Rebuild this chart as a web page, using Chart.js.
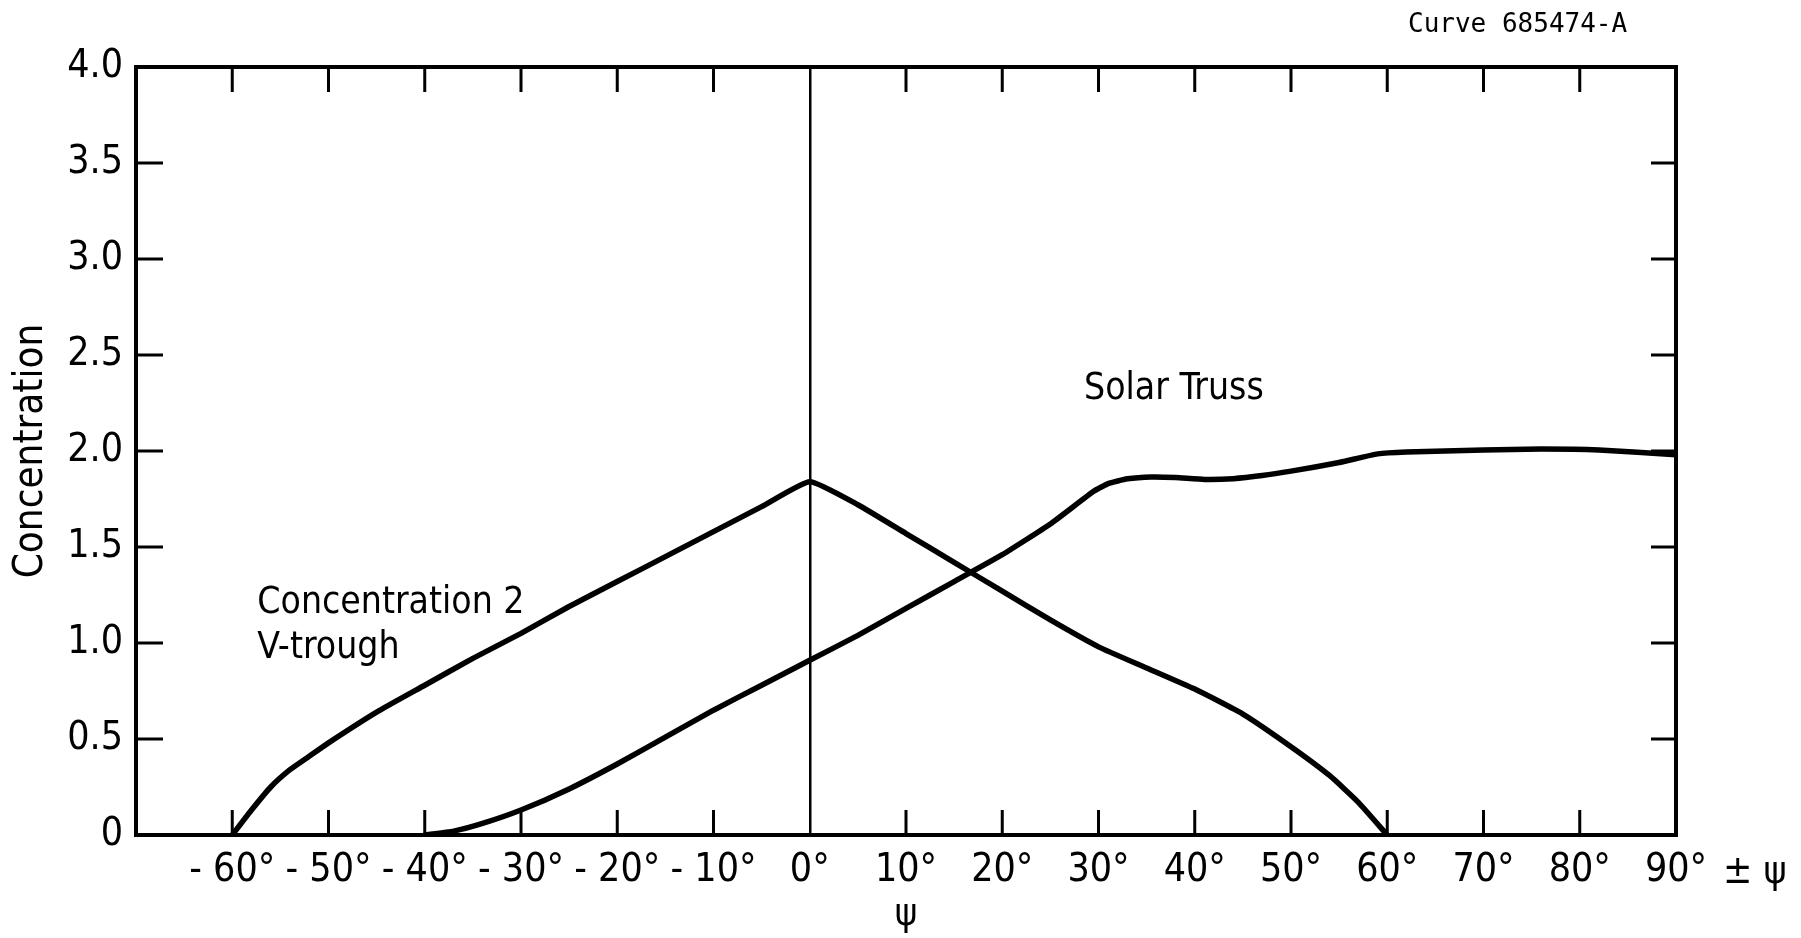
<!DOCTYPE html>
<html>
<head>
<meta charset="utf-8">
<title>Concentration vs. ψ</title>
<script src="https://cdn.jsdelivr.net/npm/chart.js@4.4.0/dist/chart.umd.min.js"></script>
<style>
  html, body { margin: 0; padding: 0; background: #ffffff; }
  #wrap { width: 1801px; height: 938px; position: relative; }
</style>
</head>
<body>
<div id="wrap"><canvas id="chart"></canvas></div>
<script>
// V-trough (concentration 2) curve: angle ψ in degrees, concentration
const vTroughAngles = [-60, -58, -56, -54, -52, -50, -45, -40, -35, -30, -25, -20, -15, -10, -5, 0,
                       5, 10, 15, 20, 25, 30, 35, 40, 45, 50, 54, 57, 60];
const vTroughValues = [0, 0.13, 0.25, 0.34, 0.41, 0.48, 0.64, 0.78, 0.92, 1.05, 1.19, 1.32, 1.45, 1.58, 1.71, 1.84,
                       1.72, 1.57, 1.42, 1.27, 1.12, 0.98, 0.87, 0.76, 0.63, 0.46, 0.31, 0.17, 0];

// Solar truss curve
const trussAngles = [-40, -37, -34, -30, -25, -20, -15, -10, -5, 0, 5, 10, 15, 20, 25, 29.5,
                     31, 33, 35.5, 38, 41, 44, 47, 50, 55, 59, 62, 70, 76, 82, 90];
const trussValues = [0, 0.02, 0.06, 0.13, 0.24, 0.37, 0.51, 0.65, 0.78, 0.91, 1.04, 1.18, 1.32, 1.46, 1.62, 1.79,
                     1.83, 1.855, 1.865, 1.862, 1.852, 1.856, 1.872, 1.895, 1.94, 1.985, 1.995, 2.005, 2.01, 2.005, 1.98];

// Axis ticks and their labels
const xTickValues = [-60, -50, -40, -30, -20, -10, 0, 10, 20, 30, 40, 50, 60, 70, 80, 90];
const xTickLabels = ['- 60°', '- 50°', '- 40°', '- 30°', '- 20°', '- 10°', '0°', '10°', '20°', '30°',
                     '40°', '50°', '60°', '70°', '80°', '90°'];
const yTickValues = [0, 0.5, 1.0, 1.5, 2.0, 2.5, 3.0, 3.5, 4.0];
const yTickLabels = ['0', '0.5', '1.0', '1.5', '2.0', '2.5', '3.0', '3.5', '4.0'];

// Texts
const yAxisTitle = 'Concentration';
const xAxisTitle = 'ψ';
const xAxisSuffix = '± ψ';
const curveId = 'Curve 685474-A';
const trussLabel = 'Solar Truss';
const vTroughLabel = ['Concentration 2', 'V-trough'];

const FONT = "'DejaVu Sans Condensed', 'Liberation Sans Narrow', sans-serif";
const INK = '#000000';

function toPoints(xs, ys) { return xs.map((x, i) => ({ x: x, y: ys[i] })); }

// Frame, inward tick marks and free text
const decorations = {
  id: 'decorations',
  afterDraw(chart) {
    const ctx = chart.ctx;
    const area = chart.chartArea;
    const xs = chart.scales.x;
    const ys = chart.scales.y;
    ctx.save();

    // inward ticks on all four sides
    ctx.strokeStyle = INK;
    ctx.lineWidth = 3;
    ctx.beginPath();
    xTickValues.forEach(v => {
      if (v === 0 || v === 90) return;
      const px = xs.getPixelForValue(v);
      ctx.moveTo(px, area.bottom); ctx.lineTo(px, area.bottom - 25);
      ctx.moveTo(px, area.top); ctx.lineTo(px, area.top + 25);
    });
    yTickValues.forEach(v => {
      if (v === 0 || v === 4) return;
      const py = ys.getPixelForValue(v);
      ctx.moveTo(area.left, py); ctx.lineTo(area.left + 27, py);
      ctx.moveTo(area.right, py); ctx.lineTo(area.right - 25, py);
    });
    ctx.stroke();

    // plot frame
    ctx.lineWidth = 4;
    ctx.strokeRect(area.left, area.top, area.right - area.left, area.bottom - area.top);

    // curve labels
    ctx.fillStyle = INK;
    ctx.textAlign = 'left';
    ctx.textBaseline = 'alphabetic';
    ctx.font = '37px ' + FONT;
    ctx.fillText(trussLabel, xs.getPixelForValue(28.5), ys.getPixelForValue(2.27));
    ctx.fillText(vTroughLabel[0], xs.getPixelForValue(-57.4), ys.getPixelForValue(1.156));
    ctx.fillText(vTroughLabel[1], xs.getPixelForValue(-57.4), ys.getPixelForValue(0.92));

    // suffix after the last angle label
    ctx.font = '39px ' + FONT;
    ctx.textBaseline = 'middle';
    ctx.fillText(xAxisSuffix, area.right + 47, area.bottom + 38);

    // drawing identifier
    ctx.font = '26px "DejaVu Sans Mono", "Liberation Mono", monospace';
    ctx.textBaseline = 'alphabetic';
    ctx.fillText(curveId, 1408, 32);

    ctx.restore();
  }
};

const lineStyle = {
  borderColor: INK,
  backgroundColor: INK,
  borderWidth: 5.5,
  pointRadius: 0,
  pointHoverRadius: 0,
  tension: 0.15,
  fill: false,
  borderJoinStyle: 'round',
  borderCapStyle: 'round'
};

new Chart(document.getElementById('chart'), {
  type: 'line',
  data: {
    datasets: [
      Object.assign({ label: 'Concentration 2 V-trough', data: toPoints(vTroughAngles, vTroughValues) }, lineStyle),
      Object.assign({ label: 'Solar Truss', data: toPoints(trussAngles, trussValues) }, lineStyle)
    ]
  },
  options: {
    responsive: true,
    maintainAspectRatio: false,
    animation: false,
    events: [],
    layout: { padding: { left: 0, top: 67, right: 125, bottom: 0 } },
    plugins: {
      legend: { display: false },
      title: { display: false },
      tooltip: { enabled: false }
    },
    scales: {
      x: {
        type: 'linear',
        min: -70,
        max: 90,
        afterBuildTicks: scale => { scale.ticks = xTickValues.map(v => ({ value: v })); },
        afterFit: scale => { scale.height = 103; },
        border: { display: false },
        grid: {
          drawTicks: false,
          drawOnChartArea: true,
          color: c => (c.tick && c.tick.value === 0 ? INK : 'rgba(0,0,0,0)'),
          lineWidth: 2.5
        },
        ticks: {
          autoSkip: false,
          maxRotation: 0,
          minRotation: 0,
          padding: 12,
          color: INK,
          font: { family: FONT, size: 39 },
          callback: (value, index) => xTickLabels[index]
        },
        title: {
          display: true,
          text: xAxisTitle,
          color: INK,
          font: { family: FONT, size: 38 },
          padding: { top: 0, bottom: 0 }
        }
      },
      y: {
        type: 'linear',
        min: 0,
        max: 4,
        afterBuildTicks: scale => { scale.ticks = yTickValues.map(v => ({ value: v })); },
        afterFit: scale => { scale.width = 136; },
        border: { display: false },
        grid: { display: false, drawTicks: false },
        ticks: {
          padding: 13,
          color: INK,
          font: { family: FONT, size: 39 },
          callback: (value, index) => yTickLabels[index]
        },
        title: {
          display: true,
          text: yAxisTitle,
          color: INK,
          font: { family: FONT, size: 40 },
          padding: { top: 8, bottom: 0 }
        }
      }
    }
  },
  plugins: [decorations]
});
</script>
</body>
</html>
